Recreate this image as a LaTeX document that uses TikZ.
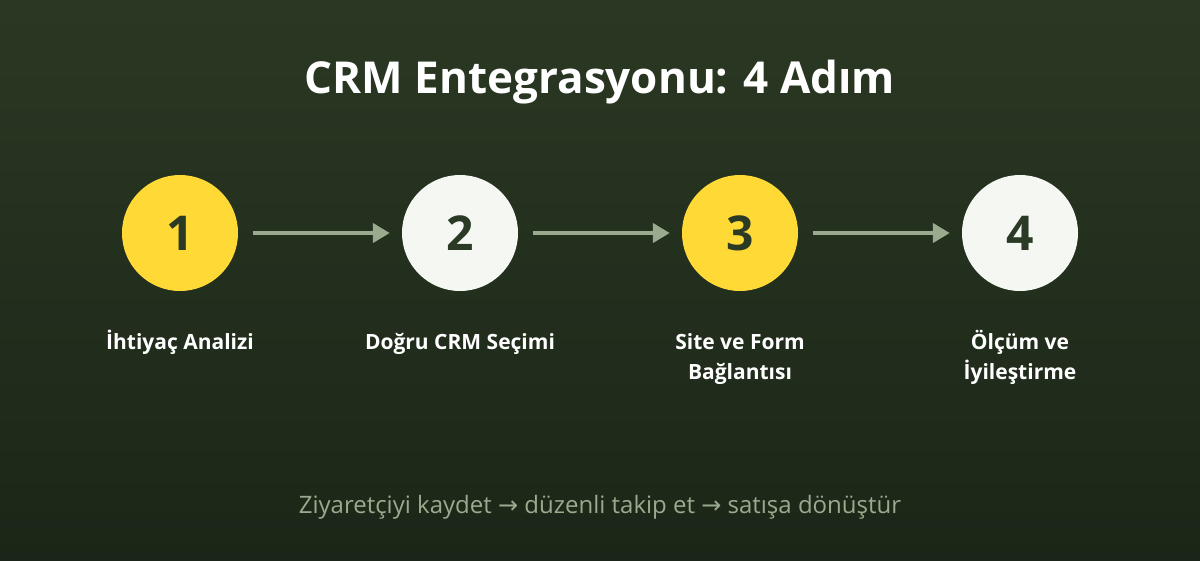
\documentclass[tikz,border=0pt]{standalone}
\usepackage{fontspec}
\setmainfont{Open Sans}
\newfontfamily\arrowfont{DejaVu Sans}
\usetikzlibrary{arrows.meta}
\definecolor{bgtop}{HTML}{2A3823}
\definecolor{bgbot}{HTML}{1C2618}
\definecolor{stepyellow}{HTML}{FFD935}
\definecolor{stepwhite}{HTML}{F4F7F2}
\definecolor{numgreen}{HTML}{2A3A24}
\definecolor{arrowgreen}{HTML}{9AAA8E}
\tikzset{
  stepcircle/.style={circle, minimum size=116pt, inner sep=0pt, font=\bfseries\fontsize{48}{50}\selectfont, text=numgreen},
  stepyel/.style={stepcircle, fill=stepyellow},
  stepwht/.style={stepcircle, fill=stepwhite},
  steplabel/.style={anchor=north, align=center, text=white, font=\bfseries\fontsize{21}{30}\selectfont},
  flow/.style={draw=arrowgreen, line width=4.5pt, -{Triangle[length=17pt,width=19pt]}},
}
\begin{document}
\begin{tikzpicture}[x=1pt,y=-1pt]
\useasboundingbox (0,0) rectangle (1200,560);
\shade[top color=bgtop, bottom color=bgbot] (0,0) rectangle (1200,560);
\node[text=white, font=\bfseries\fontsize{44}{50}\selectfont] (title) at (600,82) {CRM Entegrasyonu: 4 Adım};
\node[stepyel] (c1) at (180,233) {1};
\node[stepwht] (c2) at (460,233) {2};
\node[stepyel] (c3) at (740,233) {3};
\node[stepwht] (c4) at (1020,233) {4};
\draw[flow] ([xshift=15pt]c1.east) -- ([xshift=-12pt]c2.west);
\draw[flow] ([xshift=15pt]c2.east) -- ([xshift=-12pt]c3.west);
\draw[flow] ([xshift=15pt]c3.east) -- ([xshift=-12pt]c4.west);
\node[steplabel] (l1) at (180,327) {\vphantom{İÖ}İhtiyaç Analizi};
\node[steplabel] (l2) at (460,327) {\vphantom{İÖ}Doğru CRM Seçimi};
\node[steplabel] (l3) at (740,327) {\vphantom{İÖ}Site ve Form\\Bağlantısı};
\node[steplabel] (l4) at (1020,327) {\vphantom{İÖ}Ölçüm ve\\İyileştirme};
\node[text=arrowgreen, font=\fontsize{24}{28}\selectfont] (foot) at (600,507) {Ziyaretçiyi kaydet {\arrowfont →} düzenli takip et {\arrowfont →} satışa dönüştür};
\end{tikzpicture}
\end{document}
